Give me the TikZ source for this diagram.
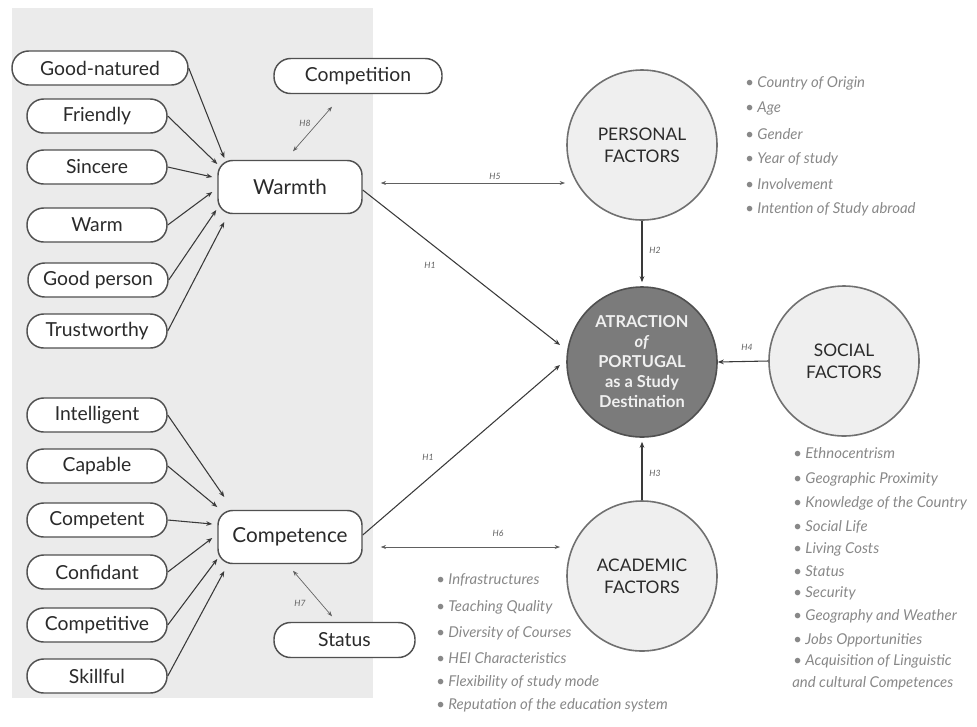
\documentclass[tikz,border=0pt]{standalone}
\usepackage{fontspec}
\setmainfont{Lato}
\usetikzlibrary{arrows.meta,calc}
\definecolor{bggray}{HTML}{EBEBEB}
\definecolor{pillline}{HTML}{505050}
\definecolor{circfill}{HTML}{EFEFEF}
\definecolor{circline}{HTML}{707070}
\definecolor{attrfill}{HTML}{7B7B7B}
\definecolor{arrowcol}{HTML}{3A3A3A}
\definecolor{txtdark}{HTML}{2A2A2A}
\definecolor{listcol}{HTML}{888888}
\definecolor{hcol}{HTML}{606060}
\begin{document}
\begin{tikzpicture}[x=0.75pt,y=-0.75pt,
 pill/.style={draw=pillline, line width=1.1pt, fill=white, rounded corners=12.5pt, minimum height=25.5pt, minimum width=105pt, inner sep=0pt, font=\fontsize{14.5}{16}\selectfont, text=txtdark},
 bigpill/.style={pill, rounded corners=11pt, minimum height=39.75pt, minimum width=108pt, font=\fontsize{15.5}{18}\selectfont},
 factor/.style={circle, draw=circline, line width=1.2pt, fill=circfill, minimum size=112.5pt, inner sep=0pt, align=center, font=\fontsize{13}{16.5}\selectfont, text=txtdark},
 attr/.style={factor, fill=attrfill, draw=pillline, text=black!6, font=\bfseries\fontsize{12.3}{15}\selectfont},
 conn/.style={draw=arrowcol, line width=0.8pt, -{Stealth[length=4.5pt,width=3.5pt]}},
 dconn/.style={draw=hcol, line width=0.5pt, {Stealth[length=4pt,width=3pt]}-{Stealth[length=4pt,width=3pt]}},
 hlab/.style={font=\itshape\fontsize{6.5}{7}\selectfont, text=hcol, inner sep=0pt},
 listitem/.style={anchor=west, font=\itshape\fontsize{11.2}{13}\selectfont, text=listcol, inner sep=0pt},
]
\useasboundingbox (0,0) rectangle (977,726);
\fill[bggray] (12,8) rectangle (373,698);

% warmth items
\node[pill, minimum width=132pt] (gn) at (100,68) {Good-natured};
\node[pill] (fr) at (97,116) {Friendly};
\node[pill] (si) at (97,167) {Sincere};
\node[pill] (wa) at (97,225) {Warm};
\node[pill] (gp) at (98,280) {Good person};
\node[pill] (tr) at (97,331) {Trustworthy};
% competence items
\node[pill] (in) at (97,415) {Intelligent};
\node[pill] (ca) at (97,466) {Capable};
\node[pill] (ct) at (97,520) {Competent};
\node[pill] (cf) at (97,572) {Confidant};
\node[pill] (cv) at (97,625) {Competitive};
\node[pill] (sk) at (97,676) {Skillful};

\node[bigpill] (warmth) at (290,187) {Warmth};
\node[bigpill] (competence) at (290,537) {Competence};
\node[pill, minimum width=126pt, minimum height=26.25pt] (competition) at (358,76) {Competition};
\node[pill, minimum width=105.75pt, minimum height=26.25pt] (status) at (344.5,640) {Status};

\node[factor] (personal) at (642,145) {PERSONAL\\FACTORS};
\node[attr] (attraction) at (642,362) {ATRACTION\\\textit{of}\\PORTUGAL\\as a Study\\Destination};
\node[factor] (social) at (844,361) {SOCIAL\\FACTORS};
\node[factor] (academic) at (642,576) {ACADEMIC\\FACTORS};

% convergence points
\coordinate (w1) at ($(warmth.west)+(7,-29)$);
\coordinate (w2) at ($(warmth.west)+(0,-23)$);
\coordinate (w3) at ($(warmth.west)+(-5,-10)$);
\coordinate (w4) at ($(warmth.west)+(-5,5)$);
\coordinate (w5) at ($(warmth.west)+(-1,23)$);
\coordinate (w6) at ($(warmth.west)+(7,35)$);
\coordinate (c1) at ($(competence.west)+(7,-40)$);
\coordinate (c2) at ($(competence.west)+(0,-30)$);
\coordinate (c3) at ($(competence.west)+(-5,-13)$);
\coordinate (c4) at ($(competence.west)+(-5,1)$);
\coordinate (c5) at ($(competence.west)+(0,22)$);
\coordinate (c6) at ($(competence.west)+(7,34)$);

\draw[conn] (gn.east) -- (w1);
\draw[conn] (fr.east) -- (w2);
\draw[conn] (si.east) -- (w3);
\draw[conn] (wa.east) -- (w4);
\draw[conn] (gp.east) -- (w5);
\draw[conn] (tr.east) -- (w6);
\draw[conn] (in.east) -- (c1);
\draw[conn] (ca.east) -- (c2);
\draw[conn] (ct.east) -- (c3);
\draw[conn] (cf.east) -- (c4);
\draw[conn] (cv.east) -- (c5);
\draw[conn] (sk.east) -- (c6);

% double-headed relations
\coordinate (h8a) at ($(warmth.north)+(3,-8.5)$);
\coordinate (h8b) at ($(competition.south)+(-26,12.5)$);
\draw[dconn] (h8a) -- (h8b);
\node[hlab] (lh8) at (305,123) {H8};
\coordinate (h7a) at ($(competence.south)+(3,6.5)$);
\coordinate (h7b) at ($(status.north)+(-12.5,-5.5)$);
\draw[dconn] (h7a) -- (h7b);
\node[hlab] (lh7) at (300,603) {H7};
\coordinate (h5a) at ($(warmth.east)+(18,-4)$);
\coordinate (h5b) at ($(personal.center)+(-77,38)$);
\draw[dconn] (h5a) -- (h5b);
\node[hlab] (lh5) at (495,176) {H5};
\coordinate (h6a) at ($(competence.east)+(18,10)$);
\coordinate (h6b) at ($(academic.center)+(-82,-29)$);
\draw[dconn] (h6a) -- (h6b);
\node[hlab] (lh6) at (498,533) {H6};

% main hypotheses
\coordinate (a1) at ($(attraction.center)+(-82,-17)$);
\coordinate (a2) at ($(attraction.center)+(-82,3)$);
\draw[conn] ($(warmth.east)+(0,3)$) -- (a1);
\node[hlab] (lh1a) at (430,265) {H1};
\draw[conn] ($(competence.east)+(0,-2)$) -- (a2);
\node[hlab] (lh1b) at (428,457) {H1};
\draw[conn, shorten >=3pt] (personal.south) -- (attraction.north);
\node[hlab] (lh2) at (655,250) {H2};
\draw[conn, shorten >=3pt] (academic.north) -- (attraction.south);
\node[hlab] (lh3) at (655,473) {H3};
\draw[conn] (social.west) -- (attraction.east);
\node[hlab] (lh4) at (747,347) {H4};

% personal list
\foreach \t [count=\i] in {Country of Origin, Age, Gender, Year of study, Involvement, Intention of Study abroad}
  \node[listitem] (p\i) at (745,{83+25.3*(\i-1)}) {\textbullet\ \t};

% social list
\foreach \t/\yy [count=\i] in {Ethnocentrism/453, Geographic Proximity/479, Knowledge of the Country/503, Social Life/527, Living Costs/549, Status/571, Security/593, Geography and Weather/616, Jobs Opportunities/640, Acquisition of Linguistic/661}
  \node[listitem] (s\i) at (793,\yy) {\textbullet\ \t};
\node[listitem] (s11) at (792,683) {and cultural Competences};

% academic list
\foreach \t/\yy [count=\i] in {Infrastructures/580, Teaching Quality/607, Diversity of Courses/633, HEI Characteristics/658, Flexibility of study mode/682, Reputation of the education system/705}
  \node[listitem] (ac\i) at (436,\yy) {\textbullet\ \t};
\end{tikzpicture}
\end{document}
